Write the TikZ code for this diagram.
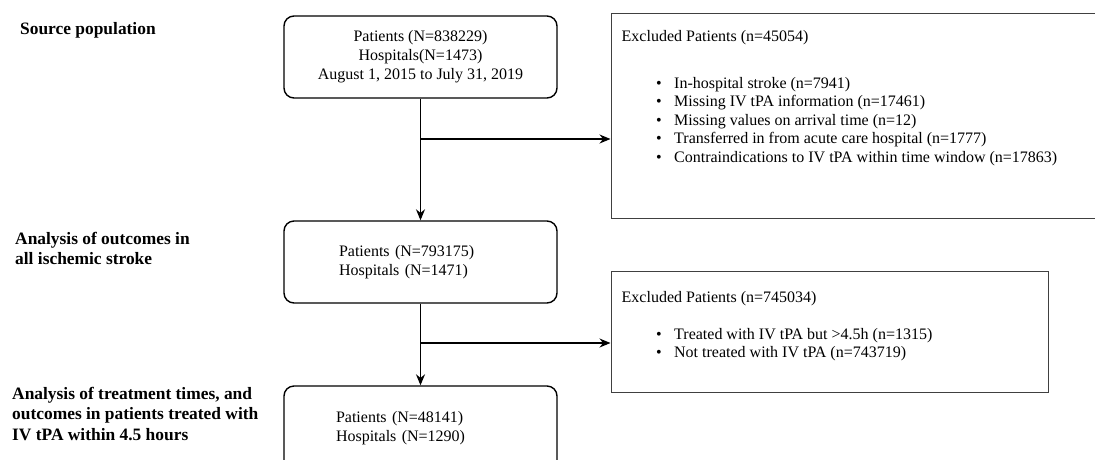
\documentclass[tikz,border=0pt]{standalone}
\usepackage{fontspec}
\setmainfont{Liberation Serif}
\usetikzlibrary{arrows.meta}
\newcommand{\bitem}[1]{\par\hspace*{45pt}\makebox[18pt][l]{\textbullet}#1}

\begin{document}
\begin{tikzpicture}[x=1pt,y=-1pt,
      box/.style={draw,line width=1.4pt,rounded corners=10pt,minimum width=273pt,
        minimum height=82pt,font=\fontsize{16}{19}\selectfont},
      excl/.style={draw=black!75,line width=1.4pt,anchor=north west,inner sep=0pt,
        font=\fontsize{16}{18.5}\selectfont},
      lbl/.style={anchor=west,align=left,inner sep=0pt,font=\fontsize{17.4}{20.5}\selectfont\bfseries},
      arr/.style={line width=1.3pt,-{Stealth[length=11pt,width=9pt]}}]
      \useasboundingbox (0,0) rectangle (1095,459);
      % stage labels
      \node[lbl] (l1) at (20,30) {Source population};
      \node[lbl] (l2) at (15,248.5) {Analysis of outcomes in\\all ischemic stroke};
      \node[lbl] (l3) at (12,413.5) {Analysis of treatment times, and\\outcomes in patients treated with\\IV tPA within 4.5 hours};
      % main flow
      \node[box,align=center] (pop) at (420.5,57) {Patients (N=838229)\\Hospitals(N=1473)\\August 1, 2015 to July 31, 2019};
      \node[box,align=left,text width=163pt,inner xsep=55pt] (all) at (420.5,262) {Patients (N=793175)\\Hospitals (N=1471)};
      \node[box,align=left,text width=169pt,inner xsep=52pt,minimum height=85pt] (tpa) at (420.5,428.5) {Patients (N=48141)\\Hospitals (N=1290)};
      % exclusions
      \node[excl] (ex1) at (610.5,13) {\begin{minipage}[t][205pt][t]{487pt}\setlength{\parindent}{0pt}%
        \vspace*{16.5pt}\hspace*{10.5pt}Excluded Patients (n=45054)\par\vspace{28.5pt}%
        \bitem{In-hospital stroke (n=7941)}
        \bitem{Missing IV tPA information (n=17461)}
        \bitem{Missing values on arrival time (n=12)}
        \bitem{Transferred in from acute care hospital (n=1777)}
        \bitem{Contraindications to IV tPA within time window (n=17863)}
      \end{minipage}};
      \node[excl] (ex2) at (610.5,271) {\begin{minipage}[t][121pt][t]{437.5pt}\setlength{\parindent}{0pt}%
        \vspace*{19.5pt}\hspace*{10.5pt}Excluded Patients (n=745034)\par\vspace{18.5pt}%
        \bitem{Treated with IV tPA but >4.5h (n=1315)}
        \bitem{Not treated with IV tPA (n=743719)}
      \end{minipage}};
      % connectors
      \coordinate (br1) at (420.5,139);
      \coordinate (br2) at (420.5,343);
      \draw[arr] (pop) -- (all);
      \draw[arr] (all) -- (tpa);
      \draw[arr] (br1) -- (br1 -| ex1.west);
      \draw[arr] (br2) -- (br2 -| ex2.west);
\end{tikzpicture}
\end{document}
